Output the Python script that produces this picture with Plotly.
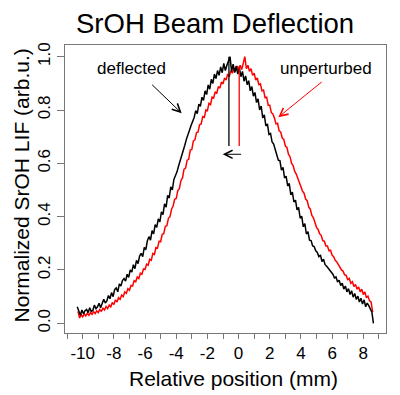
import plotly.graph_objects as go

# ---- data ----
# deflected (black) trace: x starts at -10.35 mm, step 0.1 mm
black_x0 = -10.35
black_step = 0.1
black_y = [
    0.062, 0.045, 0.030, 0.050, 0.036, 0.047, 0.052, 0.040, 0.058, 0.044,
    0.049, 0.068, 0.055, 0.062, 0.075, 0.058, 0.072, 0.090, 0.076, 0.084,
    0.104, 0.092, 0.115, 0.100, 0.126, 0.133, 0.118, 0.148, 0.140, 0.160,
    0.168, 0.158, 0.184, 0.172, 0.200, 0.192, 0.220, 0.205, 0.236, 0.224,
    0.252, 0.262, 0.250, 0.285, 0.276, 0.310, 0.325, 0.312, 0.348, 0.335,
    0.370, 0.360, 0.392, 0.380, 0.418, 0.408, 0.448, 0.436, 0.480, 0.470,
    0.512, 0.500, 0.540, 0.552, 0.568, 0.590, 0.608, 0.628, 0.645, 0.668,
    0.690, 0.712, 0.724, 0.742, 0.758, 0.772, 0.798, 0.786, 0.822, 0.814,
    0.848, 0.836, 0.872, 0.858, 0.894, 0.878, 0.915, 0.900, 0.935, 0.918,
    0.948, 0.930, 0.962, 0.940, 0.975, 0.948, 0.968, 0.982, 1.000, 0.945,
    0.972, 0.940, 0.965, 0.935, 0.958, 0.925, 0.945, 0.908, 0.928, 0.895,
    0.910, 0.872, 0.888, 0.852, 0.866, 0.828, 0.842, 0.800, 0.815, 0.770,
    0.782, 0.740, 0.748, 0.708, 0.712, 0.680, 0.672, 0.652, 0.635, 0.612,
    0.610, 0.575, 0.585, 0.545, 0.552, 0.515, 0.525, 0.482, 0.492, 0.455,
    0.462, 0.425, 0.435, 0.394, 0.402, 0.362, 0.374, 0.335, 0.344, 0.312,
    0.310, 0.290, 0.288, 0.272, 0.266, 0.250, 0.256, 0.232, 0.240, 0.220,
    0.214, 0.206, 0.198, 0.188, 0.184, 0.170, 0.174, 0.155, 0.162, 0.142,
    0.150, 0.128, 0.140, 0.118, 0.130, 0.108, 0.122, 0.098, 0.112, 0.090,
    0.102, 0.080, 0.094, 0.072, 0.088, 0.062, 0.076, 0.066, 0.052, 0.042,
    0.000,
]

# unperturbed (red) trace: x starts at -10.30 mm, step 0.1 mm
red_x0 = -10.30
red_step = 0.1
red_y = [
    0.045, 0.020, 0.032, 0.024, 0.036, 0.028, 0.038, 0.030, 0.040, 0.033,
    0.044, 0.036, 0.047, 0.040, 0.052, 0.044, 0.058, 0.050, 0.063, 0.055,
    0.068, 0.062, 0.078, 0.070, 0.088, 0.080, 0.096, 0.090, 0.106, 0.100,
    0.118, 0.112, 0.130, 0.124, 0.142, 0.140, 0.160, 0.156, 0.174, 0.168,
    0.188, 0.184, 0.204, 0.202, 0.222, 0.218, 0.240, 0.236, 0.262, 0.258,
    0.284, 0.282, 0.308, 0.306, 0.334, 0.336, 0.364, 0.366, 0.394, 0.400,
    0.428, 0.440, 0.465, 0.468, 0.498, 0.505, 0.535, 0.545, 0.578, 0.582,
    0.612, 0.615, 0.650, 0.652, 0.684, 0.688, 0.715, 0.718, 0.745, 0.748,
    0.775, 0.772, 0.800, 0.798, 0.825, 0.820, 0.848, 0.845, 0.868, 0.862,
    0.888, 0.882, 0.905, 0.898, 0.920, 0.912, 0.935, 0.925, 0.948, 0.938,
    0.958, 0.945, 0.965, 0.950, 0.968, 0.952, 0.975, 1.000, 0.955, 0.968,
    0.945, 0.955, 0.930, 0.938, 0.912, 0.920, 0.895, 0.898, 0.872, 0.875,
    0.846, 0.848, 0.818, 0.818, 0.790, 0.785, 0.770, 0.748, 0.750, 0.722,
    0.718, 0.695, 0.690, 0.665, 0.660, 0.634, 0.625, 0.600, 0.592, 0.570,
    0.560, 0.542, 0.528, 0.515, 0.496, 0.488, 0.466, 0.460, 0.436, 0.428,
    0.405, 0.396, 0.375, 0.360, 0.352, 0.336, 0.330, 0.310, 0.308, 0.290,
    0.290, 0.272, 0.274, 0.255, 0.250, 0.236, 0.230, 0.218, 0.212, 0.200,
    0.196, 0.182, 0.180, 0.164, 0.168, 0.150, 0.156, 0.138, 0.146, 0.128,
    0.136, 0.118, 0.128, 0.108, 0.118, 0.096, 0.102, 0.084, 0.080, 0.042,
]

# peak markers (centre lines) and shift arrow
black_center = -0.62
black_center_span = [0.665, 1.0]
red_center = 0.04
red_center_span = [0.665, 0.965]
shift_from = 0.26
shift_to = -1.02
shift_level = 0.634

x_tickvals = list(range(-11, 10))
x_ticktext = [str(v) if v % 2 == 0 else "" for v in x_tickvals]
y_tickvals = [0.0, 0.2, 0.4, 0.6, 0.8, 1.0]
y_ticktext = ["0.0", "0.2", "0.4", "0.6", "0.8", "1.0"]

black_x = [black_x0 + black_step * i for i in range(len(black_y))]
red_x = [red_x0 + red_step * i for i in range(len(red_y))]

FONT = "Liberation Sans, Arial, sans-serif"

fig = go.Figure()
fig.add_trace(go.Scatter(x=red_x, y=red_y, mode="lines",
                         line=dict(color="#ff0000", width=1.5), showlegend=False))
fig.add_trace(go.Scatter(x=black_x, y=black_y, mode="lines",
                         line=dict(color="#000000", width=1.5), showlegend=False))
fig.add_trace(go.Scatter(x=[black_center, black_center], y=black_center_span, mode="lines",
                         line=dict(color="#000000", width=1.3), showlegend=False))
fig.add_trace(go.Scatter(x=[red_center, red_center], y=red_center_span, mode="lines",
                         line=dict(color="#ff0000", width=1.3), showlegend=False))

annotations = [
    dict(x=shift_to, y=shift_level, ax=shift_from, ay=shift_level, axref="x", ayref="y",
         xref="x", yref="y", text="", showarrow=True, arrowhead=5, arrowsize=1.6,
         arrowwidth=1, arrowcolor="#000000", standoff=0),
    dict(x=-3.65, y=0.788, ax=-5.64, ay=0.90, axref="x", ayref="y",
         xref="x", yref="y", text="", showarrow=True, arrowhead=5, arrowsize=1.6,
         arrowwidth=1, arrowcolor="#000000", standoff=0),
    dict(x=2.55, y=0.773, ax=5.43, ay=0.91, axref="x", ayref="y",
         xref="x", yref="y", text="", showarrow=True, arrowhead=5, arrowsize=1.6,
         arrowwidth=1, arrowcolor="#ff0000", standoff=0),
    dict(x=-6.86, y=0.954, xref="x", yref="y", text="deflected", showarrow=False,
         font=dict(family=FONT, size=17, color="#000000"), xanchor="center", yanchor="middle"),
    dict(x=5.61, y=0.954, xref="x", yref="y", text="unperturbed", showarrow=False,
         font=dict(family=FONT, size=17, color="#000000"), xanchor="center", yanchor="middle"),
    dict(x=215, y=23, xref="paper", yref="paper", text="SrOH Beam Deflection",
         showarrow=False, font=dict(family=FONT, size=27.5, color="#000000"),
         xanchor="center", yanchor="middle"),
    dict(x=234, y=378, xref="paper", yref="paper", text="Relative position (mm)",
         showarrow=False, font=dict(family=FONT, size=21, color="#000000"),
         xanchor="center", yanchor="middle"),
    dict(x=20.5, y=186, xref="paper", yref="paper", text="Normalized SrOH LIF (arb.u.)",
         showarrow=False, textangle=-90, font=dict(family=FONT, size=21, color="#000000"),
         xanchor="center", yanchor="middle"),
]

# The page body adds an 8px offset; lay the figure out in window pixels and
# compensate for that offset.
OFF = 8
WIN_W, WIN_H = 400, 395
W, H = WIN_W - OFF, WIN_H - OFF
L, R, T, B = 65 - OFF, 14, 45 - OFF, 62
pw, ph = W - L - R, H - T - B
for a in annotations:
    if a.get("xref") == "paper":
        a["x"] = (a["x"] - OFF - L) / pw
        a["y"] = (H - B - (a["y"] - OFF)) / ph

fig.update_layout(
    width=W, height=H,
    margin=dict(l=L, r=R, t=T, b=B, pad=0, autoexpand=False),
    paper_bgcolor="white", plot_bgcolor="white",
    font=dict(family=FONT, color="#000000"),
    annotations=annotations,
    showlegend=False,
)
fig.update_xaxes(range=[-11.135, 9.456], tickmode="array", tickvals=x_tickvals,
                 ticktext=x_ticktext, ticks="outside", ticklen=5, tickwidth=1,
                 tickcolor="#777777", showline=True, linecolor="#777777", linewidth=1,
                 mirror=True, showgrid=False, zeroline=False, automargin=False,
                 tickfont=dict(family=FONT, size=17, color="#000000"))
fig.update_yaxes(range=[-0.0364, 1.0439], tickmode="array", tickvals=y_tickvals,
                 ticktext=y_ticktext, ticks="outside", ticklen=7, tickwidth=1,
                 tickcolor="#777777", showline=True, linecolor="#777777", linewidth=1,
                 mirror=True, showgrid=False, zeroline=False, tickangle=-90,
                 automargin=False,
                 tickfont=dict(family=FONT, size=17, color="#000000"))

fig.write_html("out.html")
